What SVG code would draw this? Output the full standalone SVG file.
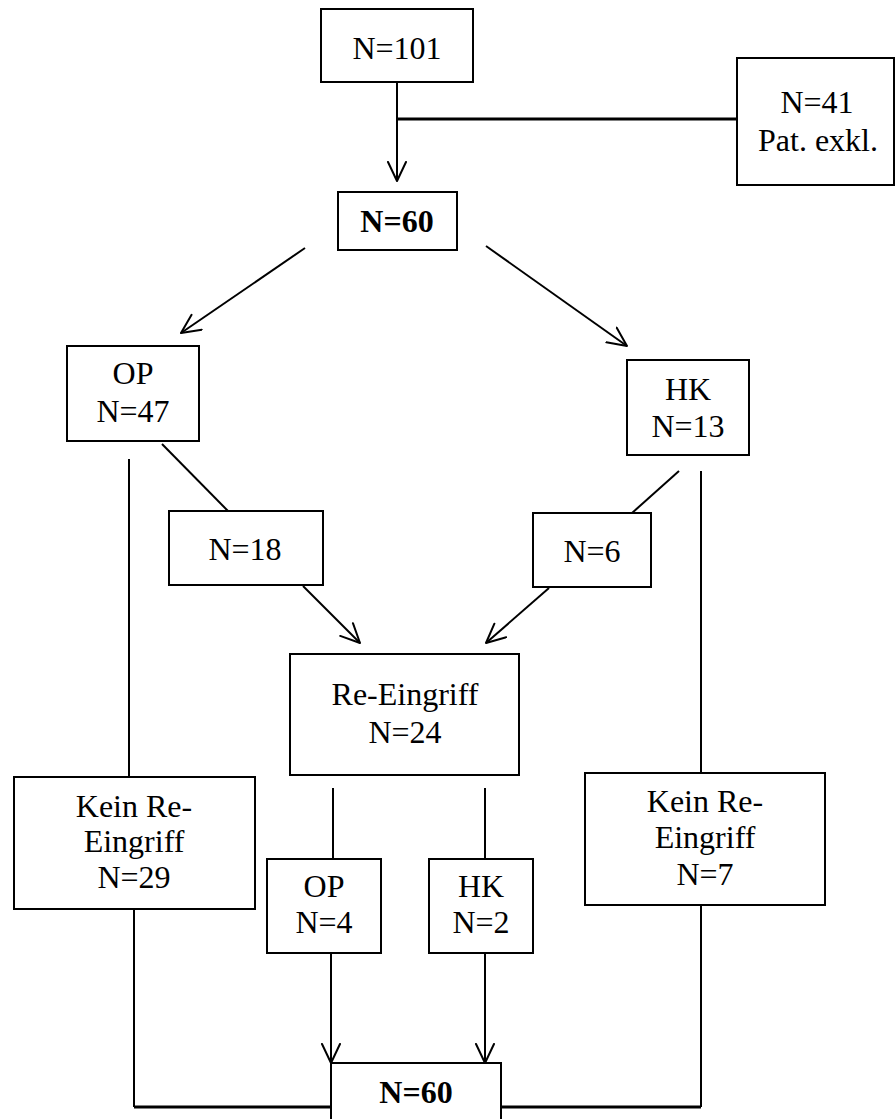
<svg xmlns="http://www.w3.org/2000/svg" width="896" height="1119" viewBox="0 0 896 1119">
<style>
.box{fill:#fff;stroke:#000;stroke-width:2}
.ln{stroke:#000;stroke-width:2;fill:none}
.thick{stroke:#000;stroke-width:3;fill:none}
.t{font-family:"Liberation Serif","Times New Roman",serif;font-size:32px;fill:#000;text-anchor:middle}
.b{font-weight:bold}
</style>
<defs>
<marker id="arr" markerUnits="userSpaceOnUse" markerWidth="24" markerHeight="24" refX="20" refY="10" orient="auto">
<path d="M1,1 L20,10 L1,19" fill="none" stroke="#000" stroke-width="2" stroke-linejoin="round" stroke-linecap="round"/>
</marker>
</defs>
<rect width="896" height="1119" fill="#fff"/>
<g id="connectors">
<line class="ln" x1="397" y1="82" x2="397" y2="181" marker-end="url(#arr)"/>
<line class="thick" x1="397" y1="119" x2="737" y2="119"/>
<line class="ln" x1="305" y1="248" x2="181" y2="333" marker-end="url(#arr)"/>
<line class="ln" x1="486" y1="246" x2="627" y2="346" marker-end="url(#arr)"/>
<line class="ln" x1="162" y1="444" x2="228" y2="511"/>
<line class="ln" x1="129" y1="459" x2="129" y2="777"/>
<line class="ln" x1="303" y1="586" x2="360" y2="643" marker-end="url(#arr)"/>
<line class="ln" x1="679" y1="471" x2="632" y2="513"/>
<line class="ln" x1="701" y1="471" x2="701" y2="773"/>
<line class="ln" x1="549" y1="588" x2="486" y2="643" marker-end="url(#arr)"/>
<line class="ln" x1="333" y1="788" x2="333" y2="859"/>
<line class="ln" x1="485" y1="788" x2="485" y2="859"/>
<line class="ln" x1="331" y1="953" x2="331" y2="1063" marker-end="url(#arr)"/>
<line class="ln" x1="485" y1="953" x2="485" y2="1063" marker-end="url(#arr)"/>
<line class="ln" x1="134" y1="909" x2="134" y2="1107"/>
<line class="thick" x1="134" y1="1107" x2="331" y2="1107"/>
<line class="ln" x1="701" y1="905" x2="701" y2="1107"/>
<line class="thick" x1="501" y1="1107" x2="701" y2="1107"/>
</g>
<g id="n101"><rect class="box" x="321" y="9" width="152" height="73"/><text class="t" x="397" y="59">N=101</text></g>
<g id="n41"><rect class="box" x="737" y="58" width="157" height="127"/><text class="t" x="817" y="113">N=41</text><text class="t" x="818" y="151">Pat. exkl.</text></g>
<g id="n60top"><rect class="box" x="338" y="192" width="119" height="58"/><text class="t b" x="397" y="232">N=60</text></g>
<g id="op47"><rect class="box" x="67" y="346" width="132" height="95"/><text class="t" x="133" y="384">OP</text><text class="t" x="133" y="422">N=47</text></g>
<g id="hk13"><rect class="box" x="627" y="360" width="122" height="95"/><text class="t" x="688" y="400">HK</text><text class="t" x="688" y="437">N=13</text></g>
<g id="n18"><rect class="box" x="169" y="511" width="154" height="74"/><text class="t" x="245" y="560">N=18</text></g>
<g id="n6"><rect class="box" x="533" y="513" width="118" height="74"/><text class="t" x="592" y="562">N=6</text></g>
<g id="re24"><rect class="box" x="290" y="654" width="229" height="121"/><text class="t" x="405" y="705">Re-Eingriff</text><text class="t" x="405" y="743">N=24</text></g>
<g id="kein29"><rect class="box" x="14" y="777" width="241" height="132"/><text class="t" x="134" y="817">Kein Re-</text><text class="t" x="134" y="852">Eingriff</text><text class="t" x="134" y="888">N=29</text></g>
<g id="kein7"><rect class="box" x="585" y="773" width="240" height="132"/><text class="t" x="705" y="812">Kein Re-</text><text class="t" x="705" y="848">Eingriff</text><text class="t" x="705" y="885">N=7</text></g>
<g id="op4"><rect class="box" x="267" y="859" width="114" height="94"/><text class="t" x="324" y="897">OP</text><text class="t" x="324" y="933">N=4</text></g>
<g id="hk2"><rect class="box" x="429" y="859" width="104" height="94"/><text class="t" x="481" y="897">HK</text><text class="t" x="481" y="933">N=2</text></g>
<g id="n60bottom"><rect class="box" x="331" y="1063" width="170" height="80"/><text class="t b" x="416" y="1103">N=60</text></g>
</svg>
